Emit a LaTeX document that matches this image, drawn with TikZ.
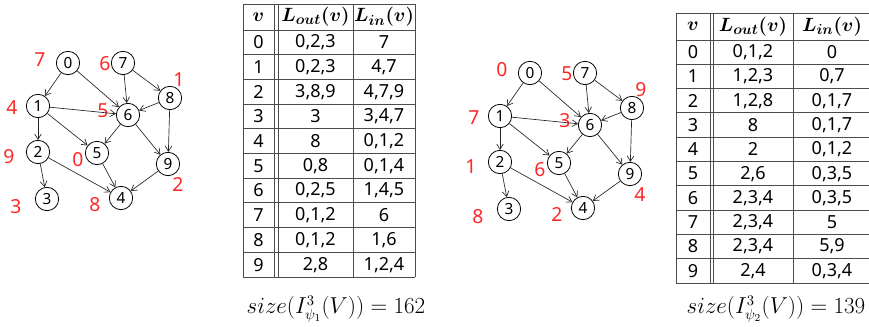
\documentclass[tikz,border=0pt]{standalone}
\usepackage{fontspec}
\setmainfont{Noto Sans}
\usepackage{bm}
\usetikzlibrary{arrows.meta,positioning}
\definecolor{ordred}{rgb}{1,0.15,0.15}
\tikzset{
	vertex/.style={
		draw, circle, minimum size=17.5pt, inner sep=0pt,
		line width=0.6pt, font=\fontsize{11.5}{11.5}\selectfont
	},
	order/.style={text=ordred, inner sep=0pt, font=\fontsize{14.5}{14.5}\selectfont},
	edge/.style={-{Straight Barb[length=4pt,width=5pt]}, line width=0.5pt, draw=black!85},
	tabline/.style={line width=0.6pt, draw=black!70},
	cell/.style={inner sep=0pt, font=\fontsize{13.5}{13.5}\selectfont},
	headcell/.style={inner sep=0pt, font=\fontsize{15}{15}\selectfont},
	caption/.style={inner sep=0pt, font=\fontsize{16}{16}\selectfont}
}
% graph with its order labels: prefix, shift, labels
\newcommand{\ordergraph}[3]{%
	\begin{scope}[shift={#2}]
		\foreach \i/\x/\y/\lx/\ly in {0/68/63/40/60, 1/38/106/12/108, 2/38/152/9/157,
			3/47/199/16/207, 4/121/198/95/205, 5/97/153/78/160, 6/128/115/103/111,
			7/123/63/105/64, 8/170/98/179/80, 9/168/164/178/185}{
			\node[vertex] (#1\i) at (\x,\y) {\i};
			\coordinate (#1l\i) at (\lx,\ly);
		}
		\foreach \i/\ord in {#3}
			\node[order] (#1o\i) at (#1l\i) {\ord};
		\foreach \a/\b in {0/1, 0/6, 7/6, 7/8, 1/6, 1/2, 1/5, 8/6, 8/9, 6/5, 6/9, 2/3, 2/4, 5/4, 9/4}
			\draw[edge] (#1\a) -- (#1\b);
	\end{scope}
}
% table: prefix, columns, top/head/row height, rows
\newcommand{\ordertable}[4]{%
	\foreach \xa/\xb/\xc/\xd/\xe in {#2}
	\foreach \ya/\yb/\rh in {#3}{
		\draw[tabline] (\xa,\ya) -- (\xe,\ya);
		\foreach \row in {0,...,10}
			\draw[tabline] (\xa,\yb+\row*\rh) -- (\xe,\yb+\row*\rh);
		\foreach \xv in {\xa,\xb,\xc,\xd,\xe}
			\draw[tabline] (\xv,\ya) -- (\xv,\yb+10*\rh);
		\node[headcell] (#1hv) at ({(\xa+\xb)/2},{(\ya+\yb)/2}) {$\bm{v}$};
		\node[headcell] (#1ho) at ({(\xc+\xd)/2},{(\ya+\yb)/2}) {$\bm{L_{out}(v)}$};
		\node[headcell] (#1hi) at ({(\xd+\xe)/2},{(\ya+\yb)/2}) {$\bm{L_{in}(v)}$};
		\foreach \lo/\li [count=\row from 0] in {#4}{
			\node[cell] (#1v\row) at ({(\xa+\xb)/2},{\yb+(\row+0.5)*\rh}) {\row};
			\node[cell] (#1o\row) at ({(\xc+\xd)/2},{\yb+(\row+0.5)*\rh}) {\lo};
			\node[cell] (#1i\row) at ({(\xd+\xe)/2},{\yb+(\row+0.5)*\rh}) {\li};
		}
	}
}

\begin{document}
\begin{tikzpicture}[x=0.75pt, y=-0.75pt]
	\useasboundingbox (0,0) rectangle (869,327);
	\ordergraph{g}{(0,0)}{0/7, 1/4, 2/9, 3/3, 4/8, 5/0, 6/5, 7/6, 8/1, 9/2}
	\ordergraph{h}{(462,10)}{0/0, 1/7, 2/1, 3/8, 4/2, 5/6, 6/3, 7/5, 8/9, 9/4}
	\ordertable{s}{243/274/278/353/415}{4/30/24.7}{%
		{0,2,3}/7, {0,2,3}/{4,7}, {3,8,9}/{4,7,9}, 3/{3,4,7}, 8/{0,1,2},
		{0,8}/{0,1,4}, {0,2,5}/{1,4,5}, {0,1,2}/6, {0,1,2}/{1,6}, {2,8}/{1,2,4}}
	\ordertable{t}{676/710/713/793/871}{13/40/24.3}{%
		{0,1,2}/0, {1,2,3}/{0,7}, {1,2,8}/{0,1,7}, 8/{0,1,7}, 2/{0,1,2},
		{2,6}/{0,3,5}, {2,3,4}/{0,3,5}, {2,3,4}/5, {2,3,4}/{5,9}, {2,4}/{0,3,4}}
	\node[caption] (size1) at (336,309) {$size\Bigl(I^{3}_{\psi_1}(V)\Bigr)=162$};
	\node[caption] (size2) at (776,309) {$size\Bigl(I^{3}_{\psi_2}(V)\Bigr)=139$};
\end{tikzpicture}
\end{document}
